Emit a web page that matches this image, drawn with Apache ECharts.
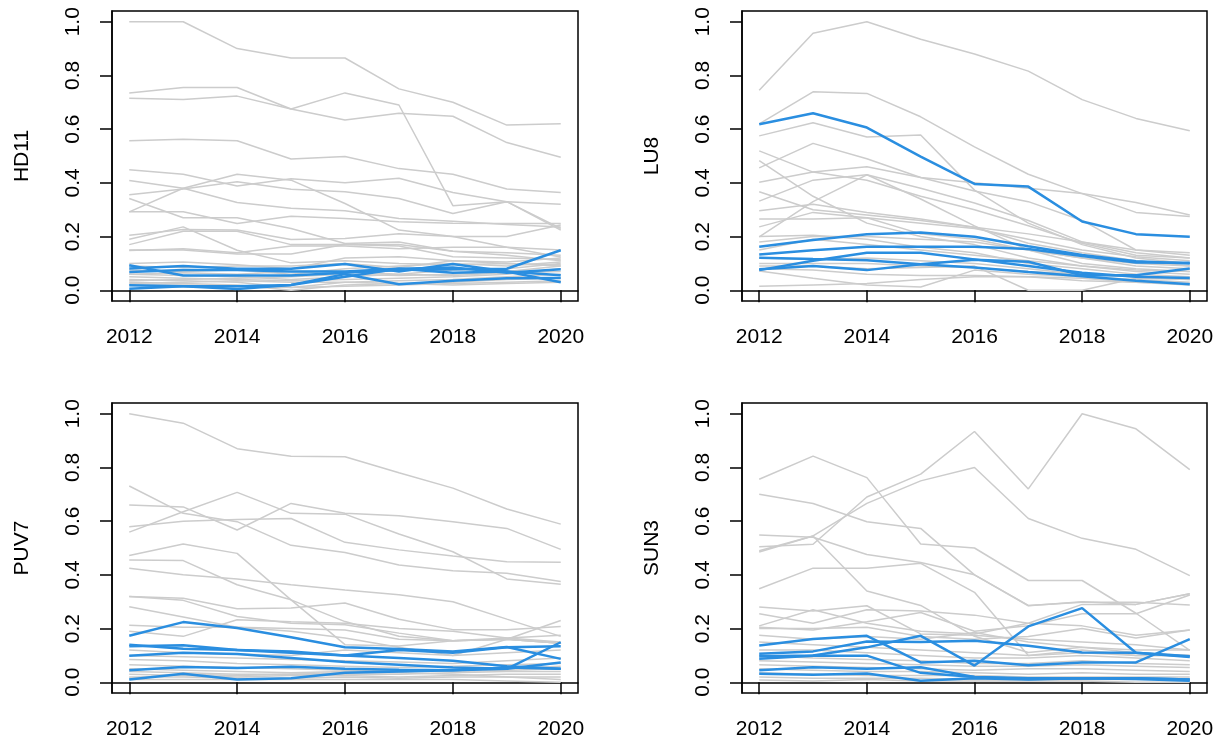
<!DOCTYPE html>
<html lang="en">
<head>
    <meta charset="UTF-8">
    <title>Panels</title>
    <style>
        html, body { margin: 0; padding: 0; background: #fff; }
        #chart { width: 1223px; height: 742px; }
    </style>
</head>
<body>
<div id="chart"></div>

<script src="https://cdn.jsdelivr.net/npm/echarts@6.0.0/dist/echarts.min.js"></script>
<script>
    // data, one value per year
    const years = [2012, 2013, 2014, 2015, 2016, 2017, 2018, 2019, 2020];
    const xTicks = [2012, 2014, 2016, 2018, 2020];
    const yTicks = [0, 0.2, 0.4, 0.6, 0.8, 1.0];
    const panelNames = ['HD11', 'LU8', 'PUV7', 'SUN3'];

    const hd11Gray = [
        [1.00, 1.00, 0.90, 0.865, 0.865, 0.75, 0.70, 0.615, 0.62],
        [0.735, 0.755, 0.755, 0.675, 0.735, 0.69, 0.315, 0.33, 0.32],
        [0.715, 0.71, 0.723, 0.675, 0.634, 0.659, 0.648, 0.55, 0.495],
        [0.557, 0.562, 0.557, 0.489, 0.498, 0.453, 0.432, 0.377, 0.364],
        [0.449, 0.432, 0.388, 0.415, 0.40, 0.417, 0.364, 0.33, 0.23],
        [0.409, 0.38, 0.327, 0.305, 0.296, 0.267, 0.257, 0.245, 0.236],
        [0.356, 0.377, 0.404, 0.376, 0.367, 0.342, 0.286, 0.33, 0.224],
        [0.292, 0.38, 0.432, 0.41, 0.323, 0.224, 0.20, 0.16, 0.124],
        [0.342, 0.27, 0.27, 0.23, 0.174, 0.18, 0.145, 0.13, 0.11],
        [0.292, 0.292, 0.249, 0.276, 0.267, 0.255, 0.25, 0.249, 0.249],
        [0.205, 0.226, 0.224, 0.189, 0.193, 0.21, 0.20, 0.20, 0.243],
        [0.19, 0.236, 0.149, 0.102, 0.11, 0.10, 0.095, 0.10, 0.09],
        [0.17, 0.22, 0.22, 0.17, 0.17, 0.165, 0.125, 0.12, 0.115],
        [0.15, 0.15, 0.135, 0.135, 0.17, 0.17, 0.145, 0.14, 0.13],
        [0.148, 0.155, 0.14, 0.165, 0.165, 0.155, 0.16, 0.16, 0.15],
        [0.10, 0.105, 0.095, 0.08, 0.12, 0.125, 0.11, 0.10, 0.095],
        [0.09, 0.085, 0.09, 0.09, 0.10, 0.085, 0.11, 0.105, 0.12],
        [0.075, 0.07, 0.075, 0.06, 0.08, 0.09, 0.10, 0.09, 0.105],
        [0.06, 0.055, 0.05, 0.04, 0.05, 0.06, 0.075, 0.08, 0.10],
        [0.05, 0.045, 0.04, 0.035, 0.04, 0.045, 0.05, 0.06, 0.08],
        [0.04, 0.035, 0.03, 0.01, 0.03, 0.035, 0.04, 0.05, 0.06],
        [0.03, 0.025, 0.02, 0.0, 0.02, 0.025, 0.03, 0.04, 0.045],
        [0.02, 0.02, 0.015, 0.01, 0.015, 0.02, 0.025, 0.03, 0.035],
        [0.025, 0.03, 0.035, 0.03, 0.03, 0.025, 0.02, 0.025, 0.03],
        [0.06, 0.065, 0.06, 0.07, 0.07, 0.06, 0.055, 0.065, 0.07],
        [0.035, 0.04, 0.045, 0.05, 0.06, 0.055, 0.06, 0.07, 0.09]
    ];
    const hd11Blue = [
        [0.093, 0.055, 0.055, 0.055, 0.065, 0.075, 0.078, 0.08, 0.149],
        [0.081, 0.09, 0.08, 0.08, 0.098, 0.07, 0.098, 0.07, 0.03],
        [0.068, 0.075, 0.075, 0.07, 0.07, 0.08, 0.085, 0.065, 0.078],
        [0.019, 0.015, 0.005, 0.02, 0.05, 0.08, 0.065, 0.07, 0.056],
        [0.006, 0.015, 0.015, 0.02, 0.06, 0.022, 0.035, 0.045, 0.046]
    ];

    const lu8Gray = [
        [0.745, 0.957, 1.0, 0.935, 0.88, 0.816, 0.71, 0.64, 0.594],
        [0.62, 0.739, 0.733, 0.646, 0.534, 0.432, 0.36, 0.327, 0.28],
        [0.575, 0.624, 0.571, 0.578, 0.373, 0.25, 0.17, 0.12, 0.10],
        [0.519, 0.44, 0.41, 0.35, 0.30, 0.24, 0.175, 0.13, 0.12],
        [0.483, 0.35, 0.25, 0.20, 0.17, 0.12, 0.09, 0.07, 0.06],
        [0.456, 0.547, 0.49, 0.42, 0.40, 0.38, 0.36, 0.29, 0.275],
        [0.402, 0.44, 0.46, 0.42, 0.37, 0.33, 0.26, 0.15, 0.13],
        [0.367, 0.30, 0.28, 0.26, 0.235, 0.175, 0.14, 0.11, 0.09],
        [0.332, 0.41, 0.43, 0.38, 0.325, 0.26, 0.18, 0.14, 0.12],
        [0.296, 0.32, 0.29, 0.265, 0.235, 0.21, 0.18, 0.15, 0.14],
        [0.265, 0.265, 0.27, 0.25, 0.23, 0.19, 0.15, 0.125, 0.11],
        [0.236, 0.29, 0.27, 0.21, 0.19, 0.15, 0.12, 0.10, 0.09],
        [0.199, 0.33, 0.43, 0.34, 0.24, 0.15, 0.10, 0.08, 0.07],
        [0.20, 0.205, 0.19, 0.16, 0.14, 0.10, 0.08, 0.06, 0.05],
        [0.072, 0.045, 0.02, 0.012, 0.075, 0.06, 0.05, 0.04, 0.03],
        [0.015, 0.02, 0.025, 0.04, 0.05, 0.05, 0.045, 0.03, 0.02],
        [0.09, 0.09, 0.08, 0.085, 0.09, 0.0, 0.0, 0.045, 0.04],
        [0.12, 0.115, 0.12, 0.11, 0.10, 0.08, 0.06, 0.05, 0.04],
        [0.15, 0.19, 0.17, 0.15, 0.13, 0.11, 0.09, 0.075, 0.07],
        [0.10, 0.10, 0.10, 0.09, 0.085, 0.07, 0.06, 0.05, 0.045],
        [0.18, 0.20, 0.20, 0.19, 0.18, 0.15, 0.12, 0.09, 0.08],
        [0.08, 0.075, 0.06, 0.055, 0.055, 0.05, 0.035, 0.03, 0.025]
    ];
    const lu8Blue = [
        [0.618, 0.659, 0.606, 0.498, 0.396, 0.386, 0.256, 0.209, 0.199],
        [0.162, 0.187, 0.209, 0.215, 0.199, 0.164, 0.131, 0.108, 0.10],
        [0.133, 0.149, 0.162, 0.162, 0.162, 0.154, 0.128, 0.103, 0.102],
        [0.121, 0.116, 0.112, 0.097, 0.085, 0.068, 0.052, 0.035, 0.022],
        [0.078, 0.09, 0.075, 0.097, 0.114, 0.106, 0.056, 0.056, 0.081],
        [0.075, 0.11, 0.14, 0.14, 0.115, 0.09, 0.065, 0.05, 0.046]
    ];

    const puv7Gray = [
        [1.0, 0.965, 0.87, 0.842, 0.84, 0.78, 0.723, 0.645, 0.589],
        [0.731, 0.629, 0.598, 0.51, 0.483, 0.437, 0.415, 0.406, 0.375],
        [0.66, 0.653, 0.567, 0.666, 0.629, 0.62, 0.598, 0.573, 0.495],
        [0.579, 0.60, 0.606, 0.61, 0.521, 0.493, 0.47, 0.449, 0.447],
        [0.559, 0.635, 0.707, 0.629, 0.626, 0.552, 0.486, 0.385, 0.365],
        [0.472, 0.515, 0.48, 0.307, 0.14, 0.135, 0.155, 0.16, 0.145],
        [0.455, 0.453, 0.363, 0.307, 0.226, 0.171, 0.155, 0.165, 0.175],
        [0.425, 0.40, 0.385, 0.363, 0.344, 0.326, 0.30, 0.235, 0.171],
        [0.319, 0.313, 0.274, 0.277, 0.295, 0.235, 0.196, 0.196, 0.208],
        [0.319, 0.305, 0.245, 0.22, 0.214, 0.183, 0.155, 0.16, 0.145],
        [0.281, 0.243, 0.205, 0.19, 0.165, 0.13, 0.10, 0.16, 0.23],
        [0.212, 0.205, 0.205, 0.20, 0.195, 0.16, 0.155, 0.16, 0.145],
        [0.19, 0.171, 0.233, 0.225, 0.22, 0.20, 0.19, 0.165, 0.15],
        [0.12, 0.11, 0.105, 0.10, 0.12, 0.11, 0.10, 0.11, 0.12],
        [0.10, 0.095, 0.09, 0.085, 0.08, 0.075, 0.07, 0.08, 0.09],
        [0.085, 0.08, 0.07, 0.065, 0.06, 0.055, 0.06, 0.065, 0.07],
        [0.065, 0.06, 0.055, 0.05, 0.045, 0.04, 0.045, 0.05, 0.06],
        [0.05, 0.045, 0.04, 0.035, 0.04, 0.045, 0.04, 0.045, 0.05],
        [0.04, 0.035, 0.03, 0.03, 0.03, 0.03, 0.035, 0.04, 0.04],
        [0.03, 0.025, 0.02, 0.025, 0.025, 0.02, 0.025, 0.03, 0.03],
        [0.02, 0.02, 0.015, 0.015, 0.02, 0.015, 0.02, 0.02, 0.02],
        [0.01, 0.01, 0.01, 0.01, 0.01, 0.01, 0.01, 0.005, 0.0],
        [0.015, 0.03, 0.025, 0.03, 0.035, 0.035, 0.03, 0.02, 0.01]
    ];
    const puv7Blue = [
        [0.173, 0.224, 0.202, 0.168, 0.13, 0.124, 0.115, 0.131, 0.087],
        [0.14, 0.125, 0.12, 0.115, 0.10, 0.12, 0.11, 0.13, 0.134],
        [0.134, 0.138, 0.12, 0.11, 0.10, 0.09, 0.08, 0.06, 0.05],
        [0.099, 0.11, 0.105, 0.09, 0.075, 0.065, 0.055, 0.05, 0.074],
        [0.045, 0.057, 0.053, 0.058, 0.05, 0.047, 0.045, 0.05, 0.149],
        [0.01, 0.032, 0.01, 0.015, 0.035, 0.04, 0.045, 0.055, 0.05]
    ];

    const sun3Gray = [
        [0.49, 0.545, 0.666, 0.75, 0.80, 0.61, 0.536, 0.495, 0.397],
        [0.505, 0.514, 0.69, 0.775, 0.934, 0.72, 1.0, 0.944, 0.792],
        [0.756, 0.842, 0.762, 0.515, 0.50, 0.379, 0.379, 0.257, 0.119],
        [0.70, 0.666, 0.598, 0.573, 0.40, 0.286, 0.298, 0.298, 0.288],
        [0.548, 0.54, 0.476, 0.446, 0.40, 0.285, 0.30, 0.29, 0.33],
        [0.348, 0.425, 0.425, 0.443, 0.335, 0.10, 0.12, 0.10, 0.10],
        [0.485, 0.545, 0.34, 0.286, 0.171, 0.111, 0.13, 0.11, 0.10],
        [0.28, 0.265, 0.285, 0.18, 0.175, 0.16, 0.15, 0.14, 0.12],
        [0.255, 0.22, 0.27, 0.265, 0.25, 0.22, 0.21, 0.175, 0.195],
        [0.21, 0.27, 0.22, 0.19, 0.18, 0.22, 0.29, 0.29, 0.33],
        [0.205, 0.195, 0.225, 0.26, 0.19, 0.21, 0.255, 0.255, 0.325],
        [0.20, 0.20, 0.205, 0.17, 0.16, 0.17, 0.20, 0.165, 0.195],
        [0.175, 0.16, 0.17, 0.16, 0.185, 0.15, 0.13, 0.12, 0.12],
        [0.15, 0.14, 0.13, 0.12, 0.11, 0.10, 0.11, 0.10, 0.10],
        [0.12, 0.12, 0.11, 0.10, 0.09, 0.09, 0.10, 0.09, 0.08],
        [0.10, 0.09, 0.085, 0.08, 0.07, 0.07, 0.08, 0.07, 0.065],
        [0.08, 0.075, 0.07, 0.065, 0.06, 0.06, 0.065, 0.06, 0.055],
        [0.065, 0.06, 0.055, 0.05, 0.045, 0.05, 0.05, 0.045, 0.04],
        [0.05, 0.045, 0.04, 0.04, 0.035, 0.03, 0.035, 0.03, 0.03],
        [0.035, 0.03, 0.025, 0.025, 0.025, 0.02, 0.02, 0.02, 0.02],
        [0.02, 0.015, 0.015, 0.015, 0.01, 0.01, 0.01, 0.01, 0.01],
        [0.008, 0.005, 0.01, 0.005, 0.005, 0.005, 0.005, 0.0, 0.0]
    ];
    const sun3Blue = [
        [0.137, 0.161, 0.173, 0.074, 0.08, 0.063, 0.074, 0.074, 0.161],
        [0.106, 0.115, 0.152, 0.15, 0.155, 0.136, 0.111, 0.11, 0.094],
        [0.097, 0.10, 0.13, 0.173, 0.062, 0.208, 0.276, 0.11, 0.097],
        [0.088, 0.099, 0.099, 0.035, 0.02, 0.015, 0.015, 0.015, 0.01],
        [0.045, 0.056, 0.05, 0.056, 0.02, 0.012, 0.015, 0.015, 0.01],
        [0.032, 0.028, 0.033, 0.006, 0.015, 0.01, 0.015, 0.012, 0.006]
    ];

    const grays = [hd11Gray, lu8Gray, puv7Gray, sun3Gray];
    const blues = [hd11Blue, lu8Blue, puv7Blue, sun3Blue];

    const GRAY = '#cccccc';
    const BLUE = '#2a8ee0';
    const INK = '#000000';
    const FONT = 'Liberation Sans, Arial, sans-serif';
    const FS = 21;

    let grids = [
        {left: 112, top: 11, width: 466, height: 290},
        {left: 742, top: 11, width: 465, height: 290},
        {left: 112, top: 403, width: 466, height: 290},
        {left: 742, top: 403, width: 465, height: 290}
    ];
    grids.forEach(g => {
        g.show = true;
        g.borderColor = INK;
        g.borderWidth = 1.5;
        g.backgroundColor = 'transparent';
    });

    let xAxes = [];
    let yAxes = [];
    let series = [];

    panelNames.forEach((name, i) => {
        xAxes.push({
            type: 'value',
            gridIndex: i,
            min: 2011.68,
            max: 2020.32,
            splitLine: {show: false},
            axisLine: {show: true, lineStyle: {color: INK, width: 1.5}},
            axisTick: {show: true, customValues: xTicks, length: 12, lineStyle: {color: INK, width: 1.5}},
            axisLabel: {
                customValues: xTicks, margin: 26, color: INK, fontSize: FS, fontFamily: FONT,
                formatter: v => String(v)
            }
        });
        yAxes.push({
            type: 'value',
            gridIndex: i,
            min: -0.04,
            max: 1.04,
            name: name,
            nameLocation: 'middle',
            nameRotate: 90,
            nameGap: 79,
            nameTextStyle: {color: INK, fontSize: FS, fontFamily: FONT},
            splitLine: {show: false},
            axisLine: {show: true, lineStyle: {color: INK, width: 1.5}},
            axisTick: {show: true, customValues: yTicks, length: 12, lineStyle: {color: INK, width: 1.5}},
            axisLabel: {
                customValues: yTicks, rotate: 90, margin: 28, color: INK, fontSize: FS, fontFamily: FONT,
                formatter: v => v.toFixed(1)
            }
        });

        grays[i].forEach(vals => {
            series.push({
                type: 'line',
                xAxisIndex: i,
                yAxisIndex: i,
                data: years.map((y, k) => [y, vals[k]]),
                symbol: 'none',
                silent: true,
                z: 2,
                lineStyle: {color: GRAY, width: 1.5}
            });
        });
        blues[i].forEach(vals => {
            series.push({
                type: 'line',
                xAxisIndex: i,
                yAxisIndex: i,
                data: years.map((y, k) => [y, vals[k]]),
                symbol: 'none',
                silent: true,
                z: 3,
                lineStyle: {color: BLUE, width: 2.5}
            });
        });
    });

    let myChart = echarts.init(document.getElementById('chart'), null, {renderer: 'canvas'});
    myChart.setOption({
        animation: false,
        textStyle: {fontFamily: FONT},
        grid: grids,
        xAxis: xAxes,
        yAxis: yAxes,
        series: series
    });
</script>
</body>
</html>
